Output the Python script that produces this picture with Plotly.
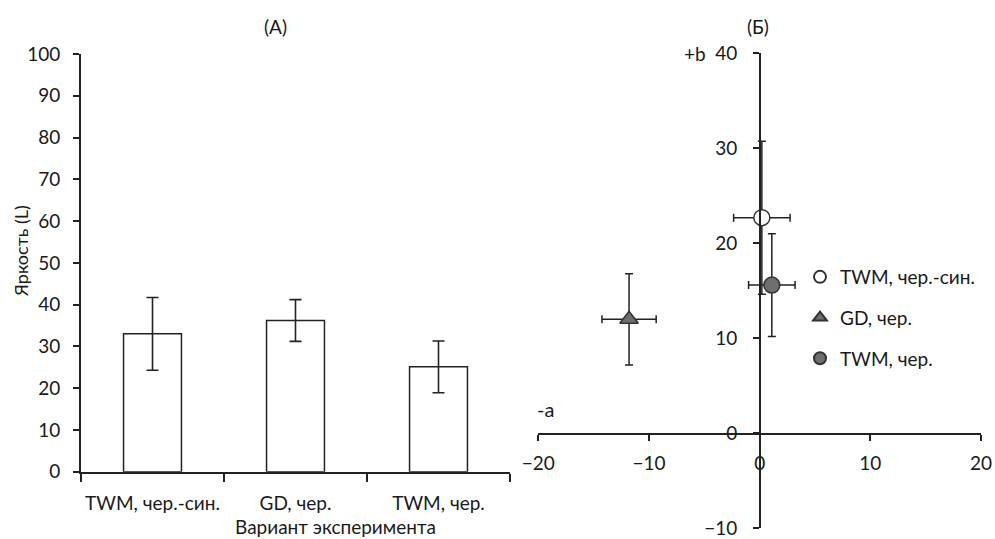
import plotly.graph_objects as go

# ---- data ----
categories = ["TWM, чер.-син.", "GD, чер.", "TWM, чер."]
brightness = [33.0, 36.2, 25.1]
brightness_err = [8.7, 5.0, 6.2]

series_names = ["TWM, чер.-син.", "GD, чер.", "TWM, чер."]
a_vals = [0.2, -11.8, 1.1]
b_vals = [22.7, 12.0, 15.6]
a_err = [2.55, 2.45, 2.1]
b_err = [8.05, 4.8, 5.4]

W, H = 995, 539
FONT = "Lato"
FS = 19
AX = "#222222"

def px(x):
    return x / W

def py(y):
    return 1 - y / H

fig = go.Figure()

# Panel A bars
fig.add_trace(go.Bar(
    x=categories, y=brightness,
    error_y=dict(type="data", array=brightness_err, color=AX, thickness=1.6, width=6),
    marker=dict(color="white", line=dict(color=AX, width=1.5)),
    width=0.405, showlegend=False, xaxis="x", yaxis="y",
))

# Panel B points
fills = ["white", "#6e6e6e", "#6e6e6e"]
symbols = ["circle", "triangle-up", "circle"]
for i in range(3):
    fig.add_trace(go.Scatter(
        x=[a_vals[i]], y=[b_vals[i]], mode="markers", name=series_names[i],
        legendgroup=f"g{i}",
        marker=dict(symbol=symbols[i], size=16, color=fills[i],
                    line=dict(color="#333333", width=1.5)),
        error_x=dict(type="data", array=[a_err[i]], color=AX, thickness=1.5, width=4),
        error_y=dict(type="data", array=[b_err[i]], color=AX, thickness=1.5, width=4),
        xaxis="x2", yaxis="y2",
    ))

font = dict(family=FONT, size=FS, color="#1a1a1a")

common = dict(
    showline=True, linecolor=AX, linewidth=1.6,
    ticks="outside", tickcolor=AX, tickwidth=1.5,
    showgrid=False, zeroline=False, tickfont=font, automargin=False,
)

fig.update_layout(
    width=W, height=H,
    margin=dict(l=0, r=0, t=0, b=0, autoexpand=False),
    paper_bgcolor="white", plot_bgcolor="rgba(0,0,0,0)",
    font=font,
    xaxis=dict(
        domain=[px(81), px(510)], anchor="y",
        type="category", tickson="boundaries", tickangle=0,
        ticklen=8, ticklabelstandoff=14,
        **common,
    ),
    yaxis=dict(
        domain=[py(471.7), py(54)], anchor="x",
        range=[0, 100], dtick=10, ticklen=6, ticklabelstandoff=9,
        **common,
    ),
    xaxis2=dict(
        domain=[px(538.3), px(981)], anchor="free", position=py(434),
        range=[-20, 20], dtick=10, ticklen=6, ticklabelstandoff=6,
        **common,
    ),
    yaxis2=dict(
        domain=[py(528.3), py(53.3)], anchor="free", position=px(760),
        range=[-10, 40], dtick=10, ticklen=6, ticklabelstandoff=12,
        **common,
    ),
    legend=dict(
        x=px(800), y=py(258), xanchor="left", yanchor="top",
        font=font, bgcolor="rgba(0,0,0,0)",
        tracegroupgap=13, itemwidth=30, itemsizing="constant",
    ),
    annotations=[
        dict(text="(A)", x=px(275), y=py(27), xref="paper", yref="paper",
             showarrow=False, font=font, xanchor="center", yanchor="middle"),
        dict(text="(Б)", x=px(758), y=py(27), xref="paper", yref="paper",
             showarrow=False, font=font, xanchor="center", yanchor="middle"),
        dict(text="+b", x=px(695), y=py(53), xref="paper", yref="paper",
             showarrow=False, font=font, xanchor="center", yanchor="middle"),
        dict(text="-a", x=px(545), y=py(409), xref="paper", yref="paper",
             showarrow=False, font=dict(family=FONT, size=20, color="#1a1a1a"),
             xanchor="center", yanchor="middle"),
        dict(text="Яркость (L)", x=px(21), y=py(251), xref="paper", yref="paper",
             showarrow=False, font=dict(family=FONT, size=18, color="#1a1a1a"),
             textangle=-90, xanchor="center", yanchor="middle"),
        dict(text="Вариант эксперимента", x=px(335), y=py(526), xref="paper",
             yref="paper", showarrow=False, font=font,
             xanchor="center", yanchor="middle"),
    ],
)

fig.write_html(
    "out.html",
    config={"displayModeBar": False},
    post_script="document.body.style.margin='0';document.body.style.padding='0';",
)
